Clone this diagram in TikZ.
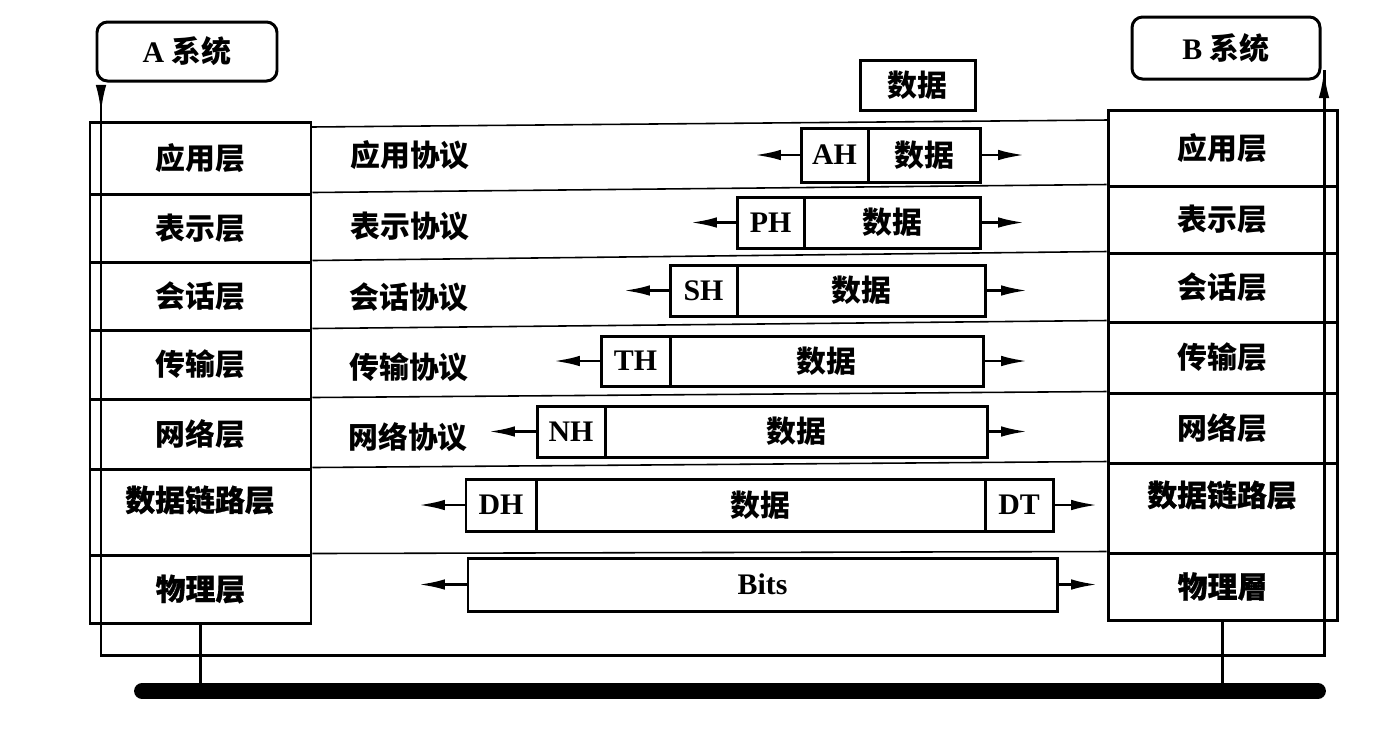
\documentclass[tikz,border=0pt]{standalone}
\usepackage{fontspec}
\setmainfont{Liberation Serif}
\newfontfamily\cjk{Noto Sans CJK SC}
\newfontfamily\cjkheavy{Noto Sans CJK SC}[FakeBold=0.8]
\usetikzlibrary{arrows.meta,fit}

% Chinese text, bold and extra heavy
\newcommand\zh[1]{{\cjk\bfseries #1}}
\newcommand\zhb[1]{{\cjkheavy\bfseries #1}}
% a framed box given by two corners (pixel units), with centred text
\newcommand\cell[7][]{%
  \node[frame,fit={(#3,#4) (#5,#6)},#1] (#2) {};
  \node[inner sep=0pt] (#2-t) at (#2.center) {#7};}

\begin{document}
\begin{tikzpicture}[x=0.02cm,y=-0.02cm,
  font=\fontsize{17}{20}\selectfont\bfseries,
  frame/.style={draw, line width=1.7pt, inner sep=0pt},
  sysbox/.style={frame, rounded corners=6pt},
  sepline/.style={line width=0.9pt},
  flow/.style={line width=1.7pt},
  tip/.style={line width=1.6pt, -{Latex[length=15pt,width=6pt]}},
  bus/.style={line width=9pt, line cap=round},
  proto/.style={anchor=west, inner sep=0pt}
]
\useasboundingbox (0,0) rectangle (1389,728);

% end systems
\cell[sysbox]{sysA}{97}{22}{277}{81}{A \zh{系统}}
\cell[sysbox]{sysB}{1132}{17}{1320}{79}{B \zh{系统}}

% layer stack of system A
\cell{la1}{90}{122}{311}{194}{\zh{应用层}}
\cell{la2}{90}{194}{311}{262}{\zh{表示层}}
\cell{la3}{90}{262}{311}{330}{\zh{会话层}}
\cell{la4}{90}{330}{311}{399}{\zh{传输层}}
\cell{la5}{90}{399}{311}{469}{\zh{网络层}}
\cell{la6}{90}{469}{311}{555}{}
\node (la6t) at (200,500) {\zhb{数据链路层}};
\cell{la7}{90}{555}{311}{623}{\zhb{物理层}}

% layer stack of system B
\cell{lb1}{1108}{110}{1337}{186}{\zh{应用层}}
\cell{lb2}{1108}{186}{1337}{253}{\zh{表示层}}
\cell{lb3}{1108}{253}{1337}{322}{\zh{会话层}}
\cell{lb4}{1108}{322}{1337}{393}{\zh{传输层}}
\cell{lb5}{1108}{393}{1337}{463}{\zh{网络层}}
\cell{lb6}{1108}{463}{1337}{553}{}
\node (lb6t) at (1222,495) {\zhb{数据链路层}};
\cell{lb7}{1108}{553}{1337}{620}{\zhb{物理層}}

% peer-level separators
\coordinate (s0L) at (311,127);
\coordinate (s0R) at (1108,120);
\draw[sepline] (s0L) -- (s0R);
\foreach \i in {2,...,7} \draw[sepline] (la\i.north east) -- (lb\i.north west);

% protocol names
\node[proto] (pa1) at (350,155) {\zh{应用协议}};
\node[proto] (pa2) at (350,226) {\zh{表示协议}};
\node[proto] (pa3) at (349,297) {\zh{会话协议}};
\node[proto] (pa4) at (349,367) {\zh{传输协议}};
\node[proto] (pa5) at (348,437) {\zh{网络协议}};

% user data
\cell{d0}{860}{60}{975}{110}{\zh{数据}}

% encapsulated units
\cell{ah}{801}{128}{868}{182}{AH}
\cell{ahd}{868}{128}{980}{182}{\zh{数据}}
\cell{ph}{737}{197}{804}{248}{PH}
\cell{phd}{804}{197}{980}{248}{\zh{数据}}
\cell{sh}{670}{265}{737}{316}{SH}
\cell{shd}{737}{265}{985}{316}{\zh{数据}}
\cell{th}{601}{336}{670}{386}{TH}
\cell{thd}{670}{336}{983}{386}{\zh{数据}}
\cell{nh}{537}{406}{605}{457}{NH}
\cell{nhd}{605}{406}{987}{457}{\zh{数据}}
\cell{dh}{466}{479}{536}{531}{DH}
\cell{dhd}{536}{479}{985}{531}{\zh{数据}}
\cell{dt}{985}{479}{1053}{531}{DT}
\cell{bits}{468}{558}{1057}{611}{Bits}

% direction arrows of each unit
\draw[tip] (ah.west) -- ++(-45,0);
\draw[tip] (ahd.east) -- ++(43,0);
\draw[tip] (ph.west) -- ++(-45,0);
\draw[tip] (phd.east) -- ++(43,0);
\draw[tip] (sh.west) -- ++(-45,0);
\draw[tip] (shd.east) -- ++(41,0);
\draw[tip] (th.west) -- ++(-46,0);
\draw[tip] (thd.east) -- ++(43,0);
\draw[tip] (nh.west) -- ++(-47,0);
\draw[tip] (nhd.east) -- ++(39,0);
\draw[tip] (dh.west) -- ++(-46,0);
\draw[tip] (dt.east) -- ++(43,0);
\draw[tip] (bits.west) -- ++(-48,0);
\draw[tip] (bits.east) -- ++(39,0);

% data path from A down through the stacks and up to B
\coordinate (aStart) at (101,87);
\coordinate (aDown) at (101,113);
\coordinate (fL) at (101,655);
\coordinate (fR) at (1324,655);
\coordinate (bEnd) at (1324,70);
\draw[flow] (aStart) -- (fL) -- (fR) -- (bEnd);
\draw[flow, -{Latex[length=16pt,width=6pt]}] (aStart) -- (aDown);
\draw[flow, -{Latex[length=16pt,width=6pt]}] (fR) -- (bEnd);

% physical medium
\coordinate (busL) at (142,691);
\coordinate (busR) at (1318,691);
\draw[bus] (busL) -- (busR);
\draw[flow] (la7.south) -- (la7.south |- busL);
\draw[flow] (lb7.south) -- (lb7.south |- busL);
\end{tikzpicture}
\end{document}
